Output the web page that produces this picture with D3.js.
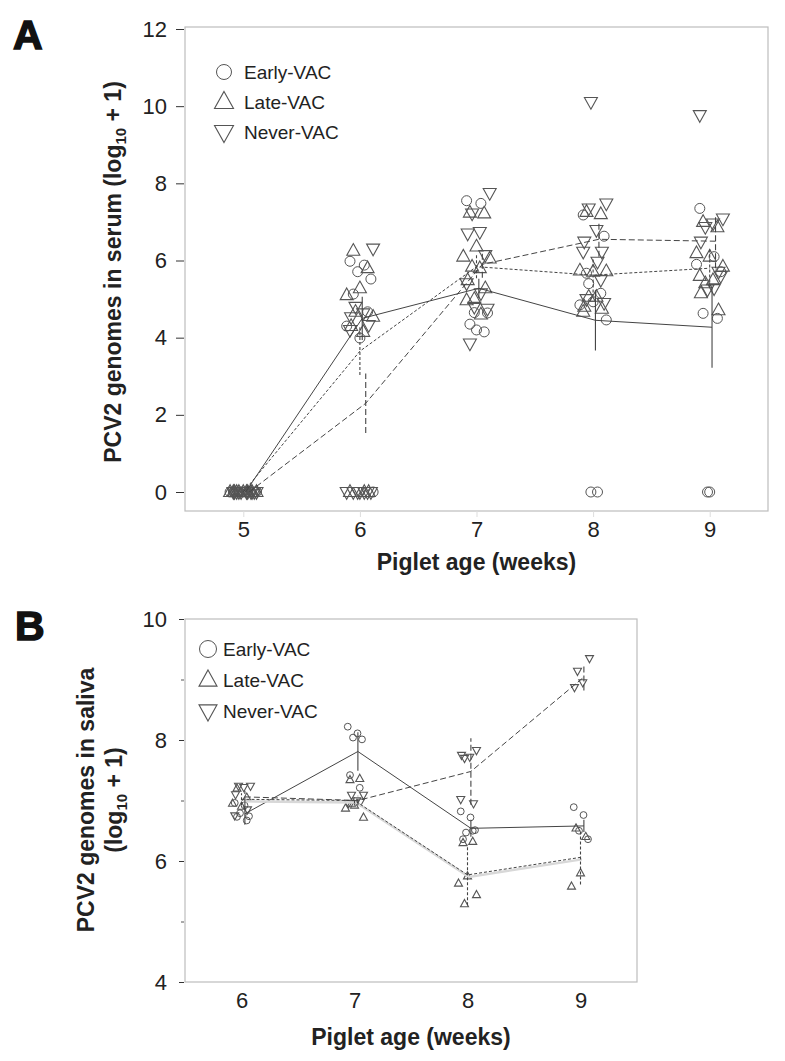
<!DOCTYPE html>
<html><head><meta charset="utf-8">
<script src="https://cdn.jsdelivr.net/npm/d3@7"></script>
<style>
body{margin:0;background:#fff;}
text{font-family:"Liberation Sans",Arial,sans-serif;}
</style></head>
<body>
<svg id="chart" width="785" height="1061"></svg>
<script>
// ---------- DATA ----------
const groups = ["Early-VAC", "Late-VAC", "Never-VAC"];

// Panel A: serum, weeks 5-9
const weeksA = [5, 6, 7, 8, 9];
const yTicksA = [0, 2, 4, 6, 8, 10, 12];
const earlyA = [
  [0,0,0,0,0,0,0,0,0,0],
  [5.98,5.88,5.71,5.52,5.13,4.67,3.99,4.3,0],
  [7.55,7.48,4.65,4.64,4.35,4.15,4.2],
  [7.18,0,0,6.63,5.67,5.15,4.93,4.85,4.46,5.4],
  [7.35,6.1,0,5.71,4.63,4.5,0,5.9]
];
const lateA = [
  [0,0,0,0,0,0,0,0,0,0,0],
  [6.25,5.8,5.28,5.10,4.54,4.67,4.15,4.3,0,0,0],
  [7.24,7.22,6.36,6.1,6.05,5.84,5.8,5.49,5.28,4.97,4.6,5.0],
  [7.26,7.2,5.71,5.74,5.72,5.06,5.06,4.8,4.75,4.67],
  [7.0,6.86,6.1,6.19,5.84,5.41,5.49,5.15,4.71,5.6]
];
const neverA = [
  [0,0,0,0,0,0,0,0,0,0,0],
  [6.31,4.8,4.63,4.53,4.33,4.2,0,0,0,0,0,0,0],
  [7.75,7.22,6.74,6.7,6.14,5.41,5.15,4.8,4.75,3.85],
  [7.48,7.35,6.79,6.49,6.23,6.23,5.97,10.11,4.9,5.0,5.5],
  [7.09,6.87,6.96,6.49,5.71,9.77,5.28,5.25,5.6]
];
const earlyMeanA = [0, 4.5, 5.28, 4.45, 4.27];
const earlySeA   = [0, 0.56, 0.25, 0.78, 1.05];
const lateMeanA  = [0, 3.65, 5.84, 5.62, 5.8];
const lateSeA    = [0, 0.62, 0.3, 0.45, 0.5];
const neverMeanA = [0, 2.3, 5.9, 6.55, 6.5];
const neverSeA   = [0, 0.77, 0.35, 0.45, 0.7];

// Panel B: saliva, weeks 6-9
const weeksB = [6, 7, 8, 9];
const yTicksB = [4, 6, 8, 10];
const yMinorB = [5, 7, 9];
const earlyB = [
  [6.96,6.92,6.79,6.74,6.73,6.67],
  [8.22,8.11,8.04,8.01,7.42,7.21],
  [6.82,6.72,6.47,6.51,6.36,6.5],
  [6.89,6.76,6.5,6.36]
];
const lateB = [
  [7.2,7.05,6.9,6.95],
  [7.34,7.36,6.92,6.87,6.72,6.95],
  [6.3,6.32,5.75,5.63,5.44,5.29],
  [6.54,6.4,5.8,5.58]
];
const neverB = [
  [7.24,7.24,7.22,7.1,6.85,6.75],
  [7.09,7.09,7.0,6.95,6.98],
  [7.83,7.7,7.72,7.75,6.95,7.02],
  [9.35,9.14,8.95,8.87]
];
const earlyMeanB = [6.78, 7.81, 6.54, 6.58];
const earlySeB   = [0.18, 0.32, 0.14, 0.1];
const lateMeanB  = [7.02, 7.0, 5.77, 6.06];
const lateSeB    = [0.1, 0.05, 0.5, 0.45];
const neverMeanB = [7.06, 7.0, 7.48, 9.04];
const neverSeB   = [0.1, 0.08, 0.55, 0.22];

// ---------- DRAW ----------
const svg = d3.select("#chart");
const SYM = "#555";
const dashes = ["none", "3,2", "6,3"];
const jitterPattern = [-9, 4, -2, 10, -6, 7, 0, -12, 12, -4, 3, -8, 8];

function shapePath(kind, s) {
  // s = half width; height ~ 1.8*s
  const h = s * 1.8;
  if (kind === 1) return `M0,${-h*0.62}L${s},${h*0.38}L${-s},${h*0.38}Z`;
  return `M0,${h*0.62}L${s},${-h*0.38}L${-s},${-h*0.38}Z`;
}

function drawSymbol(g, kind, x, y, r, tri) {
  if (kind === 0) {
    g.append("circle").attr("cx", x).attr("cy", y).attr("r", r)
      .attr("fill", "none").attr("stroke", SYM).attr("stroke-width", 1);
  } else {
    g.append("path").attr("d", shapePath(kind, tri))
      .attr("transform", `translate(${x},${y})`)
      .attr("fill", "none").attr("stroke", SYM).attr("stroke-width", 1.1);
  }
}

function panel(cfg) {
  const g = svg.append("g");
  const x = d3.scaleLinear().domain(cfg.xDomain).range([cfg.left, cfg.right]);
  const y = d3.scaleLinear().domain(cfg.yDomain).range([cfg.bottom, cfg.top]);

  // frame
  g.append("rect").attr("x", cfg.left).attr("y", cfg.frameTop)
    .attr("width", cfg.right - cfg.left).attr("height", cfg.frameBottom - cfg.frameTop)
    .attr("fill", "none").attr("stroke", "#bdbdbd").attr("stroke-width", 1.2);

  // y axis
  const ya = g.append("g").attr("transform", `translate(${cfg.left - 1},0)`)
    .call(d3.axisLeft(y).tickValues(cfg.yTicks).tickSize(cfg.tickLen).tickPadding(cfg.tickPad).tickFormat(d3.format("d")));
  ya.select(".domain").remove();
  ya.selectAll("line").attr("stroke", "#333");
  ya.selectAll("text").attr("font-size", 22).attr("fill", "#222")
    .attr("font-family", "Liberation Sans, Arial, sans-serif");
  if (cfg.yMinor) {
    const ym = g.append("g").attr("transform", `translate(${cfg.left - 1},0)`)
      .call(d3.axisLeft(y).tickValues(cfg.yMinor).tickSize(3).tickFormat(""));
    ym.select(".domain").remove();
    ym.selectAll("line").attr("stroke", "#555");
  }

  // x axis
  const xa = g.append("g").attr("transform", `translate(0,${cfg.frameBottom})`)
    .call(d3.axisBottom(x).tickValues(cfg.weeks).tickSize(cfg.xTickLen).tickPadding(cfg.xTickPad).tickFormat(d3.format("d")));
  xa.select(".domain").remove();
  xa.selectAll("line").attr("stroke", "#ddd");
  xa.selectAll("text").attr("font-size", 22).attr("fill", "#222")
    .attr("font-family", "Liberation Sans, Arial, sans-serif");

  // points
  const pts = g.append("g");
  cfg.series.forEach((ser, k) => {
    ser.forEach((vals, wi) => {
      vals.forEach((v, i) => {
        const jx = jitterPattern[(i + k * 4) % jitterPattern.length] * cfg.jit;
        drawSymbol(pts, k, x(cfg.weeks[wi]) + jx, y(v), cfg.r, cfg.tri);
      });
    });
  });

  // means lines + error bars
  const lg = g.append("g");
  cfg.means.forEach((m, k) => {
    const pts2 = m.map((v, i) => [x(cfg.weeks[i] + cfg.dodge[k]), y(v)]);
    if (cfg.shadow === k) {
      lg.append("path").attr("d", d3.line()(pts2.map(p => [p[0] + 1.5, p[1] + 2])))
        .attr("fill", "none").attr("stroke", "#d8d8d8").attr("stroke-width", 2.5);
    }
    lg.append("path").attr("d", d3.line()(pts2))
      .attr("fill", "none").attr("stroke", "#444").attr("stroke-width", 1)
      .attr("stroke-dasharray", dashes[k]);
    m.forEach((v, i) => {
      const se = cfg.ses[k][i];
      if (se <= 0) return;
      lg.append("line")
        .attr("x1", x(cfg.weeks[i] + cfg.dodge[k])).attr("x2", x(cfg.weeks[i] + cfg.dodge[k]))
        .attr("y1", y(v - se)).attr("y2", y(v + se))
        .attr("stroke", "#444").attr("stroke-width", 1.1)
        .attr("stroke-dasharray", dashes[k]);
    });
  });

  // legend
  const leg = g.append("g");
  groups.forEach((name, k) => {
    const cy = cfg.legY + k * cfg.legStep;
    drawSymbol(leg, k, cfg.legX, cy, cfg.legR, cfg.legTri);
    leg.append("text").attr("x", cfg.legX + cfg.legTextDx).attr("y", cy + 7)
      .attr("font-size", 19).attr("fill", "#222").text(name);
  });

  // axis titles
  g.append("text").attr("x", (cfg.left + cfg.right) / 2).attr("y", cfg.xTitleY)
    .attr("text-anchor", "middle").attr("font-size", 23).attr("font-weight", "bold")
    .attr("fill", "#222").text("Piglet age (weeks)");

  cfg.yTitle.forEach((line, li) => {
    const t = g.append("text")
      .attr("transform", `translate(${line.x},${cfg.yTitleY}) rotate(-90)`)
      .attr("text-anchor", "middle").attr("font-size", 23).attr("font-weight", "bold").attr("fill", "#222");
    t.append("tspan").text(line.pre);
    if (line.sub) {
      t.append("tspan").text("log");
      t.append("tspan").attr("font-size", 15).attr("dy", 5).text("10");
      t.append("tspan").attr("dy", -5).text(" + 1)");
    }
  });

  // panel label
  svg.append("text").attr("x", cfg.labelX).attr("y", cfg.labelY)
    .attr("font-size", 41).attr("font-weight", "bold").attr("fill", "#111")
    .attr("stroke", "#111").attr("stroke-width", 1.5).text(cfg.label);
}

panel({
  label: "A", labelX: 13, labelY: 49,
  xDomain: [4.5, 9.5], yDomain: [0, 12],
  left: 185, right: 768, bottom: 492, top: 29, frameTop: 27, frameBottom: 511,
  yTicks: yTicksA, tickLen: 8, tickPad: 9, xTickLen: 6, xTickPad: 4,
  weeks: weeksA,
  series: [earlyA, lateA, neverA],
  means: [earlyMeanA, lateMeanA, neverMeanA],
  ses: [earlySeA, lateSeA, neverSeA],
  dodge: [0.02, 0.0, 0.05],
  r: 5, tri: 6.5, jit: 1.1,
  legX: 224, legY: 72, legStep: 30, legR: 7.5, legTri: 9.5, legTextDx: 20,
  xTitleY: 570,
  yTitle: [{x: 121, pre: "PCV2 genomes in serum (", sub: true}],
  yTitleY: 272
});

panel({
  label: "B", labelX: 15, labelY: 640,
  xDomain: [5.5, 9.5], yDomain: [4, 10],
  left: 185, right: 637, bottom: 982, top: 619, frameTop: 619, frameBottom: 982,
  yTicks: yTicksB, yMinor: yMinorB, tickLen: 5, tickPad: 12, xTickLen: 0, xTickPad: 10,
  weeks: weeksB,
  series: [earlyB, lateB, neverB],
  means: [earlyMeanB, lateMeanB, neverMeanB],
  ses: [earlySeB, lateSeB, neverSeB],
  dodge: [0.03, 0.0, 0.03],
  r: 3.4, tri: 4, jit: 0.75, shadow: 1,
  legX: 208, legY: 649, legStep: 31, legR: 8.5, legTri: 9, legTextDx: 15,
  xTitleY: 1045,
  yTitle: [{x: 94, pre: "PCV2 genomes in saliva"}, {x: 122, pre: "(", sub: true}],
  yTitleY: 800
});
</script>
</body></html>
